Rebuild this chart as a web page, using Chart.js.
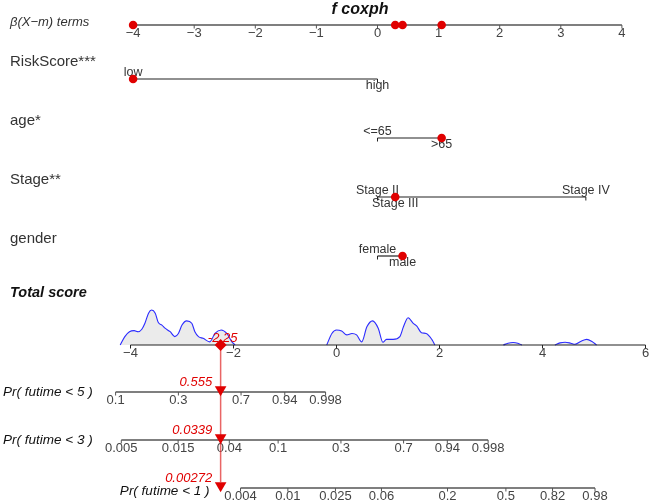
<!DOCTYPE html>
<html>
<head>
<meta charset="utf-8">
<script src="https://cdn.jsdelivr.net/npm/chart.js@4.4.1/dist/chart.umd.min.js"></script>
<style>
  html, body { margin: 0; padding: 0; background: #fff; }
  #wrap { width: 650px; height: 501px; }
</style>
</head>
<body>
<div id="wrap"><canvas id="nomo"></canvas></div>
<script>
// ====== DADOS ======
const betaTicks = [-4, -3, -2, -1, 0, 1, 2, 3, 4];
const varNames = ["RiskScore***", "age*", "Stage**", "gender"];
const riskLevels = ["low", "high"];
const riskBeta = [-4, 0];
const ageLevels = ["<=65", ">65"];
const ageBeta = [0, 1.05];
const stageLevels = ["Stage II", "Stage III", "Stage IV"];
const stageBeta = [0, 0.29, 3.41];
const genderLevels = ["female", "male"];
const genderBeta = [0, 0.41];
const chosenLevel = [0, 1, 1, 1]; // nivel do paciente em cada variavel

const totalTicks = [-4, -2, 0, 2, 4, 6];
// densidade do total score (null = sem curva)
const densScore = [-4.2, -4.11, -4.02, -3.93, -3.85, -3.78, -3.72, -3.65, -3.59, -3.52, -3.46, -3.39, -3.33, -3.23, -3.14, -3.07, -3.0, -2.91, -2.81, -2.75, -2.68, -2.59, -2.46, -2.36, -2.24, -2.13, -2.03, -1.97,
  -1.0,
  -0.19, -0.09, 0.0, 0.1, 0.2, 0.3, 0.39, 0.49, 0.59, 0.7, 0.81, 0.9, 0.97, 1.1, 1.23, 1.3, 1.39, 1.49, 1.56, 1.65, 1.74, 1.85, 1.91,
  2.5,
  3.24, 3.33, 3.43, 3.52, 3.6,
  4.0,
  4.24, 4.34, 4.44, 4.55, 4.63, 4.74, 4.86, 4.96, 5.05];
const densValue = [0, 0.24, 0.38, 0.41, 0.38, 0.45, 0.62, 0.91, 1.0, 0.91, 0.64, 0.57, 0.48, 0.38, 0.24, 0.33, 0.57, 0.69, 0.62, 0.38, 0.24, 0.19, 0.09, 0.33, 0.43, 0.33, 0.09, 0,
  null,
  0, 0.33, 0.43, 0.4, 0.29, 0.33, 0.29, 0.09, 0.52, 0.69, 0.48, 0.08, 0.16, 0.16, 0.24, 0.52, 0.78, 0.62, 0.54, 0.35, 0.33, 0.16, 0,
  null,
  0, 0.05, 0.07, 0.05, 0,
  null,
  0, 0.06, 0.08, 0.05, 0.02, 0.1, 0.16, 0.1, 0];

const prLabels = ["Pr( futime < 5 )", "Pr( futime < 3 )", "Pr( futime < 1 )"];
const prAtTotal = [0.555, 0.0339, 0.00272];
const prTicks5 = [0.1, 0.3, 0.7, 0.94, 0.998];
const prTicks3 = [0.005, 0.015, 0.04, 0.1, 0.3, 0.7, 0.94, 0.998];
const prTicks1 = [0.004, 0.01, 0.025, 0.06, 0.2, 0.5, 0.82, 0.98];

// ====== LAYOUT ======
const W = 650, H = 501;
const rowY = { beta: 25, vars: [79, 138, 197, 256], total: 345, pr: [392, 440, 488] };
const betaPx = { zero: 377.5, unit: 61.1 };
const totalPx = { zero: 336.5, unit: 51.5 };
const densPx = 35;
const RED = "#e00000";
const TXT = "#333";
const FONT = "'Liberation Sans', Arial, sans-serif";

const levels = [riskLevels, ageLevels, stageLevels, genderLevels];
const betas = [riskBeta, ageBeta, stageBeta, genderBeta];
const prTicks = [prTicks5, prTicks3, prTicks1];

const chosenBeta = betas.map((b, i) => b[chosenLevel[i]]);
const totalScore = chosenBeta.reduce((a, b) => a + b, 0);

const cloglog = p => Math.log(-Math.log(1 - p));
// posicao no eixo do total score de uma probabilidade
const scoreOfProb = (p, row) => totalScore + cloglog(p) - cloglog(prAtTotal[row]);

const minus = v => String(v).replace("-", "\u2212");

// ====== DATASETS ======
const datasets = [];
const line = (xAxisID, pts, color, width) => ({
  type: "line", xAxisID, yAxisID: "y", data: pts,
  borderColor: color, borderWidth: width, pointRadius: 0, fill: false
});

// cadeia vermelha (desenhada por cima)
datasets.push({
  type: "line", xAxisID: "xt", yAxisID: "y", showLine: false,
  data: rowY.pr.map(y => ({ x: totalScore, y: y - 2.5 })),
  pointStyle: "triangle", rotation: 180, pointRadius: 6.7,
  pointBackgroundColor: RED, pointBorderWidth: 0
});
datasets.push({
  type: "line", xAxisID: "xt", yAxisID: "y", showLine: false,
  data: [{ x: totalScore, y: rowY.total }],
  pointStyle: "rectRot", pointRadius: 6,
  pointBackgroundColor: RED, pointBorderWidth: 0
});
datasets.push(line("xt", [{ x: totalScore, y: rowY.total }, { x: totalScore, y: rowY.pr[2] - 6 }], "rgba(225,50,50,0.75)", 1.5));

// pontos vermelhos dos betas
datasets.push({
  type: "line", xAxisID: "xb", yAxisID: "y", showLine: false,
  data: chosenBeta.map(b => ({ x: b, y: rowY.beta }))
    .concat(chosenBeta.map((b, i) => ({ x: b, y: rowY.vars[i] }))),
  pointRadius: 4.3, pointBackgroundColor: RED, pointBorderWidth: 0
});

// eixo beta
datasets.push(line("xb", [{ x: betaTicks[0], y: rowY.beta }, { x: betaTicks[betaTicks.length - 1], y: rowY.beta }], "#555", 1.3));
// linhas das variaveis
betas.forEach((b, i) => {
  datasets.push(line("xb", [{ x: Math.min(...b), y: rowY.vars[i] }, { x: Math.max(...b), y: rowY.vars[i] }], "#222", 1.2));
});
// eixo total score
datasets.push(line("xt", [{ x: totalTicks[0], y: rowY.total }, { x: totalTicks[totalTicks.length - 1], y: rowY.total }], "#222", 1.2));
// eixos de probabilidade
prTicks.forEach((t, r) => {
  datasets.push(line("xt", [{ x: scoreOfProb(t[0], r), y: rowY.pr[r] }, { x: scoreOfProb(t[t.length - 1], r), y: rowY.pr[r] }], "#555", 1.3));
});
// densidade
datasets.push({
  type: "line", xAxisID: "xt", yAxisID: "yd",
  data: densScore.map((s, i) => ({ x: s, y: densValue[i] })),
  borderColor: "#2b2bff", borderWidth: 1.1, pointRadius: 0,
  cubicInterpolationMode: "monotone", spanGaps: false,
  fill: { value: 0 }, backgroundColor: "#ebebeb"
});

// ====== TEXTOS E TICKS ======
function txt(ctx, s, x, y, font, color, align) {
  ctx.font = font;
  ctx.fillStyle = color;
  ctx.textAlign = align || "left";
  ctx.textBaseline = "middle";
  ctx.fillText(s, x, y);
}
function tick(ctx, x, y, color) {
  ctx.strokeStyle = color;
  ctx.lineWidth = 1;
  ctx.beginPath();
  ctx.moveTo(x, y);
  ctx.lineTo(x, y + 3.5);
  ctx.stroke();
}

const textPlugin = {
  id: "nomoText",
  beforeDatasetsDraw(chart) {
    const ctx = chart.ctx;
    const xb = chart.scales.xb, xt = chart.scales.xt;
    ctx.save();
    txt(ctx, "f coxph", 360, 10, "italic bold 16px " + FONT, "#111", "center");
    txt(ctx, "\u03b2(X\u2212m) terms", 10, rowY.beta - 3, "italic 13px " + FONT, TXT);
    betaTicks.forEach(v => {
      const px = xb.getPixelForValue(v);
      tick(ctx, px, rowY.beta, "#555");
      txt(ctx, minus(v), px, rowY.beta + 8.5, "13px " + FONT, "#444", "center");
    });
    varNames.forEach((n, i) => {
      const y = rowY.vars[i];
      txt(ctx, n, 10, y - 17, "15px " + FONT, TXT);
      levels[i].forEach((lv, k) => {
        const px = xb.getPixelForValue(betas[i][k]);
        tick(ctx, px, y, "#222");
        txt(ctx, lv, px, k % 2 === 0 ? y - 6.5 : y + 7, "12.5px " + FONT, TXT, "center");
      });
    });
    txt(ctx, "Total score", 10, 293, "italic bold 14.5px " + FONT, "#111");
    totalTicks.forEach(v => {
      const px = xt.getPixelForValue(v);
      tick(ctx, px, rowY.total, "#222");
      txt(ctx, minus(v), px, rowY.total + 8, "13px " + FONT, "#444", "center");
    });
    prTicks.forEach((t, r) => {
      const y = rowY.pr[r];
      const start = xt.getPixelForValue(scoreOfProb(t[0], r));
      if (start > 200) txt(ctx, prLabels[r], start - 31, y + 3.5, "italic 13.5px " + FONT, "#111", "right");
      else txt(ctx, prLabels[r], 3, y, "italic 13.5px " + FONT, "#111");
      t.forEach(p => {
        const px = xt.getPixelForValue(scoreOfProb(p, r));
        tick(ctx, px, y, "#555");
        txt(ctx, String(p), px, y + 8, "13px " + FONT, "#444", "center");
      });
    });
    ctx.restore();
  },
  afterDatasetsDraw(chart) {
    const ctx = chart.ctx;
    const px = chart.scales.xt.getPixelForValue(totalScore);
    ctx.save();
    txt(ctx, totalScore.toFixed(2), px + 2, rowY.total - 7, "italic 13px " + FONT, RED, "center");
    prAtTotal.forEach((p, r) => {
      txt(ctx, String(p), px - 8.5, rowY.pr[r] - 10, "italic 13px " + FONT, RED, "right");
    });
    ctx.restore();
  }
};

new Chart(document.getElementById("nomo"), {
  type: "line",
  data: { datasets },
  options: {
    responsive: true,
    maintainAspectRatio: false,
    animation: false,
    events: [],
    layout: { padding: 0, autoPadding: false },
    plugins: { legend: { display: false }, tooltip: { enabled: false } },
    scales: {
      xb: { type: "linear", display: false, min: -betaPx.zero / betaPx.unit, max: (W - betaPx.zero) / betaPx.unit },
      xt: { type: "linear", display: false, min: -totalPx.zero / totalPx.unit, max: (W - totalPx.zero) / totalPx.unit },
      y: { type: "linear", display: false, min: 0, max: H, reverse: true },
      yd: { type: "linear", display: false, min: -(H - rowY.total) / densPx, max: rowY.total / densPx }
    }
  },
  plugins: [textPlugin]
});
</script>
</body>
</html>
